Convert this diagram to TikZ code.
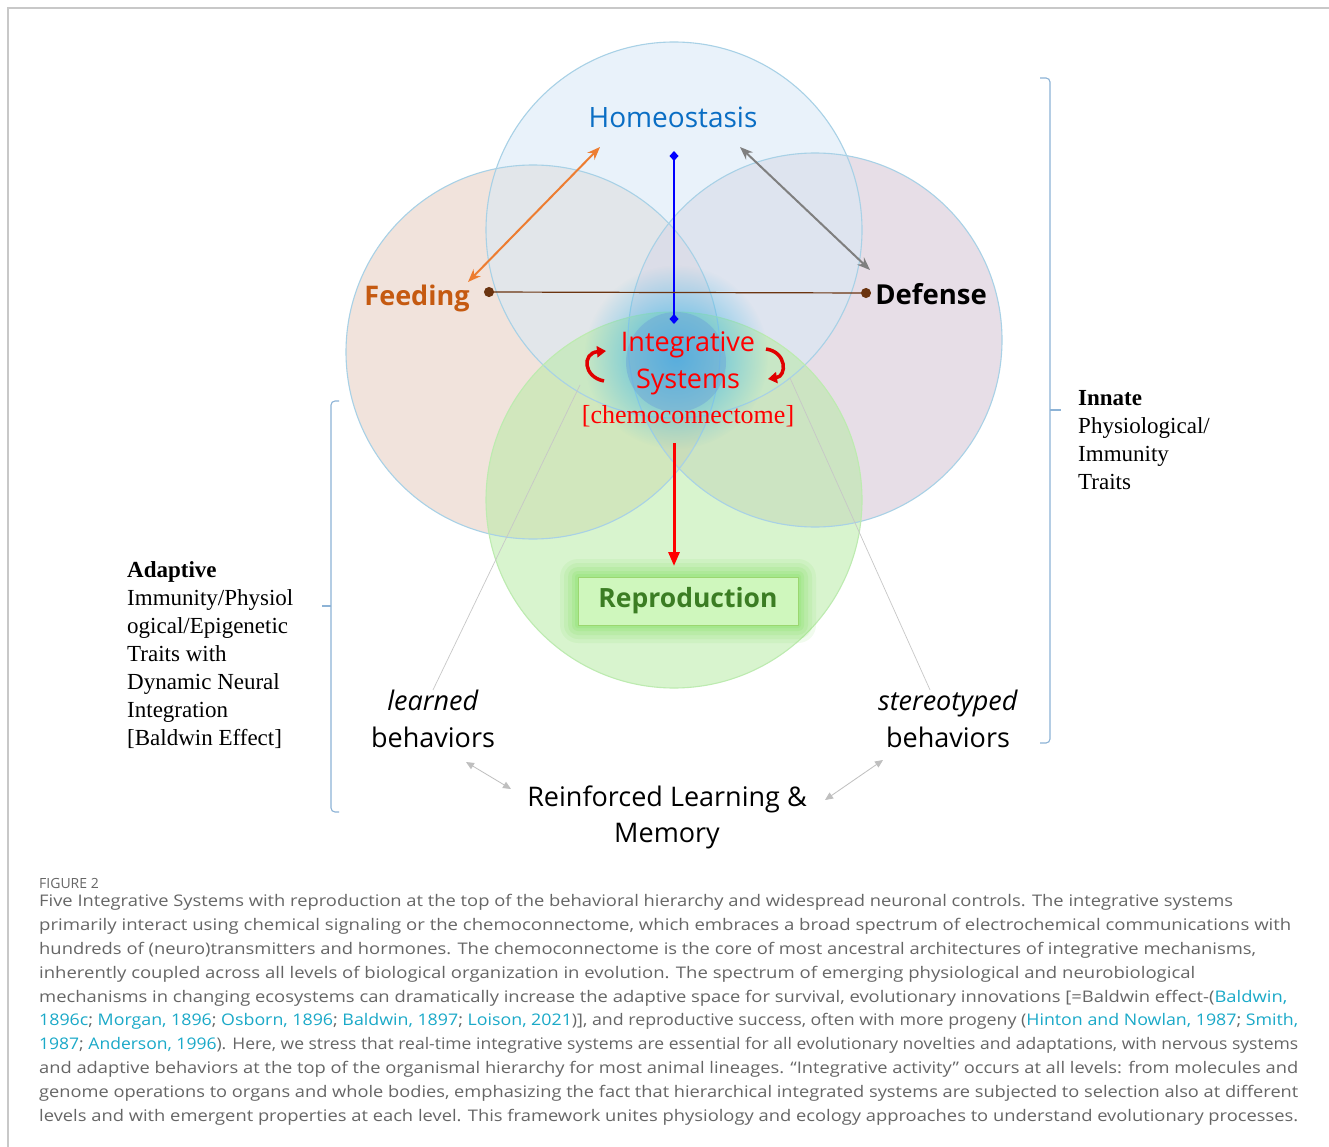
\documentclass[tikz,border=0pt]{standalone}
\usepackage{fontspec}
\usepackage{graphicx}
\setmainfont{Liberation Serif}
\newfontfamily\osans{Open Sans}
\usetikzlibrary{arrows.meta,fadings}
\definecolor{homeoF}{HTML}{D7E9F7}
\definecolor{feedF}{HTML}{E5C9BB}
\definecolor{defF}{HTML}{D1BFD1}
\definecolor{reproF}{HTML}{B3EB9F}
\definecolor{ringblue}{HTML}{A8D1E6}
\definecolor{ringgreen}{HTML}{BDEBB0}
\definecolor{homeoT}{HTML}{0A6EC4}
\definecolor{feedT}{HTML}{C55A11}
\definecolor{orangeA}{HTML}{ED7D31}
\definecolor{grayA}{HTML}{7F7F7F}
\definecolor{brownL}{HTML}{6B3410}
\definecolor{reproT}{HTML}{3B7D23}
\definecolor{reproBox}{HTML}{CFF7BD}
\definecolor{reproEdge}{HTML}{9BD770}
\definecolor{glowg}{HTML}{7FE05A}
\definecolor{glowc}{HTML}{3AB4E6}
\definecolor{diskc}{HTML}{6FA6D8}
\definecolor{bracketc}{HTML}{8DB3D6}
\definecolor{capgray}{HTML}{666666}
\definecolor{linkc}{HTML}{1AA9C8}
\definecolor{framec}{HTML}{C8C8C8}
\definecolor{lightA}{HTML}{BFBFBF}
\newcommand\lk[1]{\textcolor{linkc}{#1}}
\tikzfading[name=glowfade, inner color=transparent!5, outer color=transparent!100]
\begin{document}
\begin{tikzpicture}[x=1pt,y=-1pt,
  ring/.style={line width=1.1pt},
  sanslab/.style={font=\osans\fontsize{27}{37}\selectfont, align=center, inner sep=0pt},
  seriflab/.style={font=\fontsize{23}{28}\selectfont, align=left, anchor=north west, inner sep=0pt, black},
  capline/.style={font=\osans\fontsize{16}{20}\selectfont, text=capgray, anchor=west, inner sep=0pt},
  dblarrow/.style={line width=2pt, {Stealth[length=13pt,width=10pt]}-{Stealth[length=13pt,width=10pt]}},
  faint/.style={lightA, line width=0.8pt, {Triangle[length=8pt,width=7pt]}-{Triangle[length=8pt,width=7pt]}},
  thinline/.style={black!22, line width=0.7pt},
  bracket/.style={bracketc, line width=1.1pt, rounded corners=4pt}
]
\useasboundingbox (0,0) rectangle (1329,1147);
\fill[white] (0,0) rectangle (1329,1147);
% frame
\draw[framec, line width=1.5pt] (8,1147) -- (8,8) -- (1329,8);

% circles
\fill[feedF, fill opacity=0.5] (533,352) circle (187pt);
\fill[defF, fill opacity=0.5] (815,340) circle (187pt);
\fill[homeoF, fill opacity=0.55] (674,230) circle (188pt);
\fill[reproF, fill opacity=0.5] (674,500) circle (188pt);
\draw[ringblue, ring] (674,230) circle (188pt);
\draw[ringblue, ring] (533,352) circle (187pt);
\draw[ringblue, ring] (815,340) circle (187pt);
\draw[ringgreen, ring] (674,500) circle (188pt);

% central glow
\fill[glowc, path fading=glowfade] (676,357) circle (92pt);
\fill[diskc, fill opacity=0.5] (676,362) circle (50pt);

% thin guide lines
\coordinate (lt) at (580,385);
\coordinate (rt) at (790,378);

% Reproduction glow
\foreach \d/\o in {18/0.10,14/0.12,10/0.15,6/0.18,3/0.2}
  \fill[glowg, opacity=\o, rounded corners=\d pt] ({578-\d},{577-\d}) rectangle ({798+\d},{625+\d});

% labels
\node[sanslab, text=homeoT, font=\osans\fontsize{28}{30}\selectfont] (homeo) at (673,117) {Homeostasis};
\node[sanslab, text=feedT, font=\osans\bfseries\fontsize{27}{30}\selectfont] (feed) at (417,298) {Feeding};
\node[sanslab, text=black, font=\osans\bfseries\fontsize{27.5}{30}\selectfont] (def) at (931,294) {Defense};
\node[sanslab, text=red] (integ) at (688,363) {Integrative\\Systems};
\node[text=red, font=\fontsize{26}{28}\selectfont, inner sep=0pt] (chemo) at (688,416) {[chemoconnectome]};
\node[draw=reproEdge, fill=reproBox, line width=1pt, minimum width=220pt, minimum height=48pt, inner sep=0pt,
      text=reproT, font=\osans\bfseries\fontsize{26.5}{30}\selectfont] (repro) at (688,601) {Reproduction};
\node[sanslab, text=black] (learned) at (433,719) {\textit{learned}\\behaviors};
\node[sanslab, text=black] (stereo) at (948,719) {\textit{stereotyped}\\behaviors};
\node[sanslab, text=black, font=\osans\fontsize{27}{36}\selectfont] (rlm) at (667,817) {Reinforced Learning \&\\Memory};

\node[seriflab] (innate) at (1078,390) {\textbf{Innate}\\Physiological/\\Immunity\\Traits};
\node[seriflab] (adapt) at (127,561) {\textbf{Adaptive}\\Immunity/Physiol\\ogical/Epigenetic\\Traits with\\Dynamic Neural\\Integration\\{[Baldwin Effect]}};

% connectors
\coordinate (hA) at (600,147);
\coordinate (fA) at (468,282);
\coordinate (hB) at (740,147);
\coordinate (dB) at (870,270);
\coordinate (hC) at (674,151);
\coordinate (iC) at (674,324);
\coordinate (fD) at (484,292);
\coordinate (dD) at (871,293);
\coordinate (cE) at (674,443);
\coordinate (rE) at (674,566);

\draw[thinline] (learned.north) -- (lt);
\draw[thinline] (stereo.north) ++(-18,0) -- (rt);

\draw[dblarrow, orangeA] (hA) -- (fA);
\draw[dblarrow, grayA] (hB) -- (dB);
\draw[blue, line width=2pt, {Diamond[length=10pt,width=9pt]}-{Diamond[length=10pt,width=9pt]}] (hC) -- (iC);
\draw[brownL, line width=1.2pt, {Circle[length=10pt]}-{Circle[length=10pt]}] (fD) -- (dD);
\draw[red, line width=3pt, -{Triangle[length=14pt,width=11pt]}] (cE) -- (rE);

% curved red arrows
\coordinate (la1) at (604,381);
\coordinate (la2) at (606,351);
\coordinate (ra1) at (766,349);
\coordinate (ra2) at (768,379);
\draw[red!88!black, line width=3.5pt, -{Triangle[length=9pt,width=11pt]}] (la1) .. controls (583,377) and (582,353) .. (la2);
\draw[red!88!black, line width=3.5pt, -{Triangle[length=9pt,width=11pt]}] (ra1) .. controls (787,352) and (787,376) .. (ra2);

% faint arrows to reinforced learning
\coordinate (lb1) at (466,762);
\coordinate (lb2) at (511,789);
\coordinate (rb1) at (883,760);
\coordinate (rb2) at (825,800);
\draw[faint] (lb1) -- (lb2);
\draw[faint] (rb1) -- (rb2);

% brackets
\draw[bracket] (1040,78) -| (1050,743) -- (1040,743);
\draw[bracketc, line width=1.1pt] (1050,410) -- (1061,410);
\draw[bracket] (339,401) -| (331,812) -- (339,812);
\draw[bracketc, line width=1.1pt] (331,606) -- (322,606);

% caption
\node[capline, font=\osans\fontsize{14}{16}\selectfont] (figlab) at (39,883) {FIGURE 2};
\node[capline] (c1) at (39,902) {\resizebox{1194pt}{\height}{Five Integrative Systems with reproduction at the top of the behavioral hierarchy and widespread neuronal controls. The integrative systems}};
\node[capline] (c2) at (39,926) {\resizebox{1252pt}{\height}{primarily interact using chemical signaling or the chemoconnectome, which embraces a broad spectrum of electrochemical communications with}};
\node[capline] (c3) at (39,950) {\resizebox{1217pt}{\height}{hundreds of (neuro)transmitters and hormones. The chemoconnectome is the core of most ancestral architectures of integrative mechanisms,}};
\node[capline] (c4) at (39,974) {\resizebox{1156pt}{\height}{inherently coupled across all levels of biological organization in evolution. The spectrum of emerging physiological and neurobiological}};
\node[capline] (c5) at (39,998) {\resizebox{1248pt}{\height}{mechanisms in changing ecosystems can dramatically increase the adaptive space for survival, evolutionary innovations [=Baldwin effect-(\lk{Baldwin,}}};
\node[capline] (c6) at (39,1021) {\resizebox{1259pt}{\height}{\lk{1896c}; \lk{Morgan, 1896}; \lk{Osborn, 1896}; \lk{Baldwin, 1897}; \lk{Loison, 2021})], and reproductive success, often with more progeny (\lk{Hinton and Nowlan, 1987}; \lk{Smith,}}};
\node[capline] (c7) at (39,1045) {\resizebox{1259pt}{\height}{\lk{1987}; \lk{Anderson, 1996}). Here, we stress that real-time integrative systems are essential for all evolutionary novelties and adaptations, with nervous systems}};
\node[capline] (c8) at (39,1069) {\resizebox{1259pt}{\height}{and adaptive behaviors at the top of the organismal hierarchy for most animal lineages. “Integrative activity” occurs at all levels: from molecules and}};
\node[capline] (c9) at (39,1093) {\resizebox{1259pt}{\height}{genome operations to organs and whole bodies, emphasizing the fact that hierarchical integrated systems are subjected to selection also at different}};
\node[capline] (c10) at (39,1117) {\resizebox{1259pt}{\height}{levels and with emergent properties at each level. This framework unites physiology and ecology approaches to understand evolutionary processes.}};
\end{tikzpicture}
\end{document}
